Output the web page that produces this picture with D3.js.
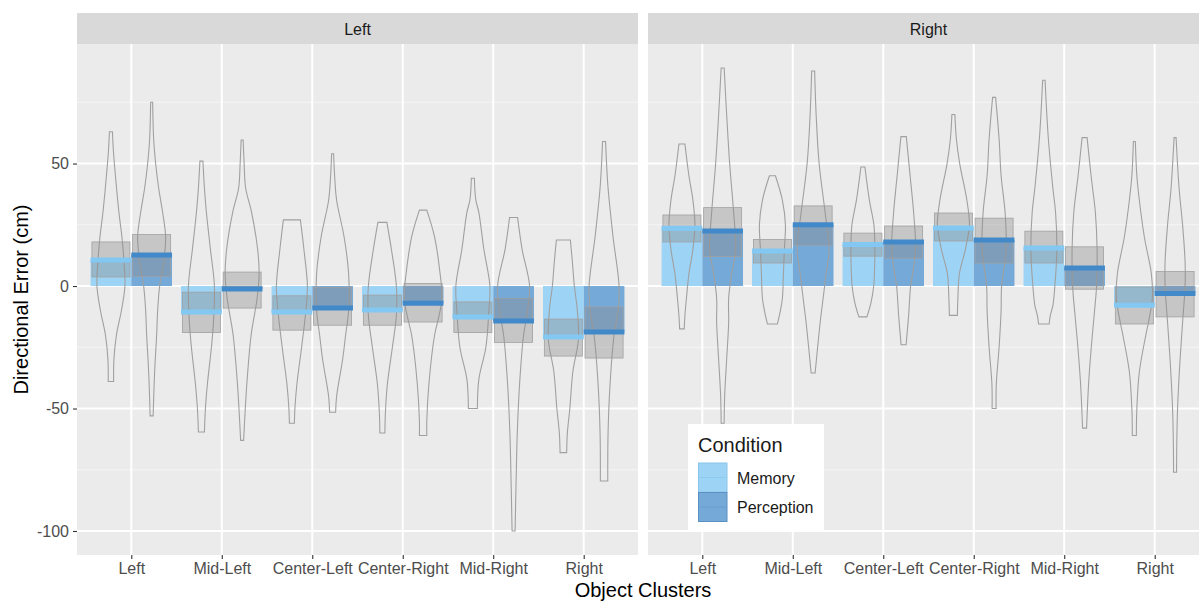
<!DOCTYPE html>
<html>
<head>
<meta charset="utf-8">
<script src="https://cdn.jsdelivr.net/npm/d3@7"></script>
<style>
body { margin: 0; background: #fff; }
text { font-family: "Liberation Sans", Arial, sans-serif; }
</style>
</head>
<body>
<div id="chartbox"></div>
<script>
d3.select('#chartbox').html(null);

const panels = ["Left", "Right"];
const clusters = ["Left", "Mid-Left", "Center-Left", "Center-Right", "Mid-Right", "Right"];
const conditions = ["Memory", "Perception"];
const yTicks = [50, 0, -50, -100];
const yMinor = [75, 25, -25, -75];

// mean directional error (cm), one value per cluster
const leftMemoryMean = [10.6, -10.6, -10.6, -9.8, -12.6, -20.8];
const leftPerceptionMean = [12.7, -1.2, -9, -7, -14.3, -18.8];
const rightMemoryMean = [23.6, 14.3, 17, 23.7, 15.5, -7.8];
const rightPerceptionMean = [22.5, 25, 18, 18.8, 7.4, -3];

// grey interval box [low, high]
const leftMemoryBox = [[3.7, 18], [-19, -2.5], [-18, -4], [-16, -3.7], [-19, -6.5], [-28.6, -13.5]];
const leftPerceptionBox = [[4, 21], [-9, 5.7], [-16, -0.5], [-14.7, 1], [-23, -5], [-29.4, -8.6]];
const rightMemoryBox = [[18, 29], [9.4, 19], [12.2, 21.6], [18.4, 29.8], [9.4, 22.4], [-15.5, -0.4]];
const rightPerceptionBox = [[12, 32], [16.7, 32.7], [11.4, 24.5], [9.4, 27.7], [-1.3, 16], [-12.6, 5.9]];

// violin outlines: [value, density] from top to bottom
const leftMemoryViolin = [
  [[63,1.5],[55,2.5],[45,4.5],[30,8],[20,11],[10,13],[0,14],[-10,10.5],[-20,5.5],[-30,3],[-39,2.7]],
  [[51,1.5],[40,3],[30,5],[15,9],[0,13],[-15,12],[-25,10],[-40,6],[-50,4],[-59.6,3]],
  [[27,8.5],[15,12],[0,15.5],[-10,14],[-25,9.7],[-40,5],[-50,3],[-56,2.5]],
  [[26,4.5],[15,9],[0,14],[-12,14],[-25,10],[-40,5],[-52,3],[-60,2.5]],
  [[44,1.5],[35,3],[30,6],[15,11],[0,17],[-10,16],[-25,13],[-38,6],[-50,4.5]],
  [[18.8,7],[10,9],[0,11],[-10,14],[-22,15],[-35,9.5],[-50,6.5],[-60,4],[-68,3.3]]
];
const leftPerceptionViolin = [
  [[75,1],[60,2],[50,4],[40,7],[30,11],[20,14],[10,12],[0,8],[-10,6],[-20,5],[-35,3],[-53,1.5]],
  [[59.6,1],[50,2],[40,3.5],[30,9.5],[15,15.5],[5,17],[-5,15],[-20,9],[-40,4.7],[-55,2.5],[-63,1.5]],
  [[54,1],[45,2],[35,4],[20,11.5],[5,16],[-10,16],[-20,13],[-30,10],[-45,4],[-51.5,3]],
  [[31,3.7],[20,11.5],[5,17],[-5,19],[-12,16],[-20,11.5],[-40,5.8],[-55,3.7],[-61,3.7]],
  [[28,4],[15,8.5],[0,16],[-10,14],[-20,10],[-40,6],[-60,3.7],[-80,2.5],[-100,1.5]],
  [[59,1.5],[50,2.5],[40,4],[20,9],[0,15],[-10,14],[-20,10],[-40,6],[-60,4],[-79.6,3.7]]
];
const rightMemoryViolin = [
  [[58,3],[45,7],[35,11],[25,13],[15,11],[5,7],[-5,4.5],[-12,3],[-17.5,2.3]],
  [[45,3],[35,10],[25,13],[15,12],[5,11],[-5,10],[-10,8],[-15.5,5]],
  [[48.6,2],[35,6.5],[25,11],[15,12],[5,11.5],[0,10.8],[-7,8],[-12.6,4]],
  [[70,1.5],[60,3],[50,6.3],[35,13.5],[25,16],[15,12],[5,6],[-5,4.5],[-12,4]],
  [[84,1.2],[60,4.5],[40,9],[30,11.7],[15,13],[0,11],[-8,9],[-12,6.5],[-15.5,5.3]],
  [[59,1],[45,2.5],[35,5],[20,10],[5,17],[-5,18],[-15,14],[-20,11.5],[-35,5],[-50,2.5],[-61,2]]
];
const rightPerceptionViolin = [
  [[89,1.5],[70,4],[50,7],[30,11],[15,13],[5,9],[-5,6],[-15,6],[-30,4],[-45,2],[-56,1.5]],
  [[87.8,1.5],[70,3],[50,6],[30,12],[15,16],[5,13],[-5,10],[-15,7],[-30,3.3],[-35.5,2]],
  [[61,2.7],[45,6.5],[30,10],[15,12],[5,9],[0,7],[-12,5],[-24,2.5]],
  [[77,1.5],[60,5],[45,7],[30,11],[15,12],[0,7.5],[-10,7],[-25,5],[-40,2.2],[-50,2]],
  [[60.6,2.5],[45,6.5],[30,10.8],[15,12.5],[0,12],[-10,10],[-25,6.7],[-40,4],[-58,2]],
  [[60.6,1],[40,4],[25,7.5],[10,10],[0,10],[-15,7.5],[-30,5],[-50,2.5],[-65,1.7],[-76,1.5]]
];

const series = {
  Left: {
    Memory: {mean: leftMemoryMean, box: leftMemoryBox, violin: leftMemoryViolin},
    Perception: {mean: leftPerceptionMean, box: leftPerceptionBox, violin: leftPerceptionViolin}
  },
  Right: {
    Memory: {mean: rightMemoryMean, box: rightMemoryBox, violin: rightMemoryViolin},
    Perception: {mean: rightPerceptionMean, box: rightPerceptionBox, violin: rightPerceptionViolin}
  }
};

var rows = [];
panels.forEach(function(p) {
  conditions.forEach(function(c) {
    clusters.forEach(function(k, i) {
      var s = series[p][c];
      rows.push({panel: p, cluster: k, condition: c, mean: s.mean[i],
                 lo: s.box[i][0], hi: s.box[i][1], violin: s.violin[i]});
    });
  });
});

const width = 1199, height = 601;
const barColor = {Memory: "#9dd3f5", Perception: "#74a9d8"};
const lineColor = {Memory: "#82c8f2", Perception: "#4289c9"};

var svg = d3.select('#chartbox').append('svg')
  .attr('width', width).attr('height', height);

var plotTop = 44, plotBottom = 555;
var y = d3.scaleLinear().domain([-109.8, 98.8]).range([plotBottom, plotTop]);
var panelX = {Left: [77, 638], Right: [648, 1209]};
var x = {};
panels.forEach(function(p) {
  x[p] = d3.scalePoint().domain(clusters).range(panelX[p]).padding(0.6);
});
var step = x.Left.step();
var dodge = d3.scaleBand().domain(conditions).range([-0.45 * step, 0.45 * step]);
var maxDens = d3.max(rows, function(r) { return d3.max(r.violin, function(d) { return d[1]; }); });
var w = d3.scaleLinear().domain([0, maxDens]).range([0, 19]);

var violin = d3.area()
  .curve(d3.curveCatmullRom.alpha(0.5));

panels.forEach(function(p) {
  var g = svg.append('g');
  var x0 = panelX[p][0], x1 = panelX[p][1];
  g.append('rect').attr('x', x0).attr('y', plotTop).attr('width', x1 - x0).attr('height', plotBottom - plotTop).attr('fill', '#ebebeb');
  // strip
  g.append('rect').attr('x', x0).attr('y', 13).attr('width', x1 - x0).attr('height', plotTop - 13).attr('fill', '#d9d9d9');
  g.append('text').attr('x', (panelX.Left[0] + panelX.Left[1]) / 2 + (x0 - panelX.Left[0])).attr('y', 34.5)
    .attr('text-anchor', 'middle').attr('font-size', 16).attr('fill', '#1a1a1a').text(p);

  yMinor.forEach(function(v) {
    g.append('line').attr('x1', x0).attr('x2', x1).attr('y1', y(v)).attr('y2', y(v))
      .attr('stroke', '#f5f5f5').attr('stroke-width', 1);
  });
  yTicks.forEach(function(v) {
    g.append('line').attr('x1', x0).attr('x2', x1).attr('y1', y(v)).attr('y2', y(v))
      .attr('stroke', '#ffffff').attr('stroke-width', 2);
  });
  clusters.forEach(function(k) {
    g.append('line').attr('x1', x[p](k)).attr('x2', x[p](k)).attr('y1', plotTop).attr('y2', plotBottom)
      .attr('stroke', '#ffffff').attr('stroke-width', 2);
  });

  var pr = rows.filter(function(r) { return r.panel === p; });
  var cx = function(r) { return x[p](r.cluster) + dodge(r.condition) + dodge.bandwidth() / 2; };

  // bars from 0 to mean
  g.selectAll('.bar').data(pr).enter().append('rect')
    .attr('x', function(r) { return x[p](r.cluster) + dodge(r.condition); })
    .attr('width', dodge.bandwidth())
    .attr('y', function(r) { return y(Math.max(0, r.mean)); })
    .attr('height', function(r) { return Math.abs(y(r.mean) - y(0)); })
    .attr('fill', function(r) { return barColor[r.condition]; });

  // violins
  pr.forEach(function(r) {
    var c = cx(r);
    violin.y(function(d) { return y(d[0]); })
      .x0(function(d) { return c - w(d[1]); })
      .x1(function(d) { return c + w(d[1]); });
    g.append('path').attr('d', violin(r.violin))
      .attr('fill', 'none').attr('stroke', '#a0a0a0').attr('stroke-width', 1.1);
  });

  // grey interval boxes
  var bw = 0.42 * step;
  g.selectAll('.box').data(pr).enter().append('rect')
    .attr('x', function(r) { return cx(r) - bw / 2; })
    .attr('width', bw)
    .attr('y', function(r) { return y(r.hi); })
    .attr('height', function(r) { return y(r.lo) - y(r.hi); })
    .attr('fill', '#8c8c8c').attr('fill-opacity', 0.38)
    .attr('stroke', '#a0a0a0').attr('stroke-width', 0.8);

  // mean lines
  g.selectAll('.mean').data(pr).enter().append('line')
    .attr('x1', function(r) { return x[p](r.cluster) + dodge(r.condition); })
    .attr('x2', function(r) { return x[p](r.cluster) + dodge(r.condition) + dodge.bandwidth(); })
    .attr('y1', function(r) { return y(r.mean); })
    .attr('y2', function(r) { return y(r.mean); })
    .attr('stroke', function(r) { return lineColor[r.condition]; })
    .attr('stroke-width', 5);

  // x axis
  var xa = svg.append('g').attr('transform', 'translate(0,' + plotBottom + ')')
    .call(d3.axisBottom(x[p]).tickSize(4).tickPadding(4));
  xa.select('.domain').remove();
  xa.selectAll('line').attr('stroke', '#333').attr('stroke-width', 1.1);
  xa.selectAll('text').attr('font-size', 16).attr('fill', '#4d4d4d')
    .attr('font-family', '"Liberation Sans", Arial, sans-serif');
});

// y axis (left panel only), plain hyphen minus like the reference
var ya = svg.append('g').attr('transform', 'translate(' + panelX.Left[0] + ',0)')
  .call(d3.axisLeft(y).tickValues(yTicks).tickSize(4).tickPadding(4)
    .tickFormat(function(d) { return String(d); }));
ya.select('.domain').remove();
ya.selectAll('line').attr('stroke', '#333').attr('stroke-width', 1.1);
ya.selectAll('text').attr('font-size', 16).attr('fill', '#4d4d4d')
  .attr('font-family', '"Liberation Sans", Arial, sans-serif');

// axis titles
svg.append('text').attr('x', (panelX.Left[0] + panelX.Right[1]) / 2).attr('y', 597)
  .attr('text-anchor', 'middle').attr('font-size', 20).attr('fill', '#000').text('Object Clusters');
svg.append('text').attr('transform', 'translate(28,' + (plotTop + plotBottom) / 2 + ') rotate(-90)')
  .attr('text-anchor', 'middle').attr('font-size', 20).attr('fill', '#000').text('Directional Error (cm)');

// legend
var lg = svg.append('g').attr('transform', 'translate(688,424)');
lg.append('rect').attr('width', 136).attr('height', 107).attr('fill', '#fff');
lg.append('text').attr('x', 10).attr('y', 28).attr('font-size', 20).attr('fill', '#1a1a1a').text('Condition');
conditions.forEach(function(c, i) {
  var ky = 39 + i * 29.5;
  lg.append('rect').attr('x', 10.5).attr('y', ky).attr('width', 28.5).attr('height', 29)
    .attr('fill', barColor[c]).attr('stroke', c === 'Memory' ? '#8cc6ec' : '#5b90c2').attr('stroke-width', 1);
  lg.append('line').attr('x1', 10.5).attr('x2', 39).attr('y1', ky + 14.5).attr('y2', ky + 14.5)
    .attr('stroke', c === 'Memory' ? '#8ccbf1' : '#6a9ed0').attr('stroke-width', 1);
  lg.append('text').attr('x', 49).attr('y', ky + 20.5).attr('font-size', 16).attr('fill', '#1a1a1a').text(c);
});
</script>
</body>
</html>
